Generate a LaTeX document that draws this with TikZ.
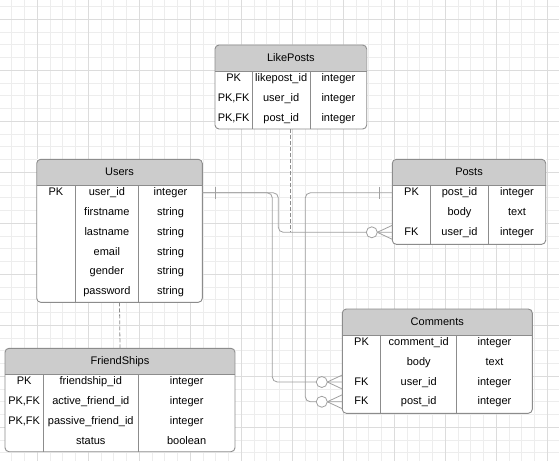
\documentclass[tikz,border=0pt]{standalone}
\usepackage{fontspec}
\setmainfont{Liberation Sans}
\usepackage{tikz}
\usetikzlibrary{calc}
\usepackage{xcolor}

\definecolor{gridfine}{HTML}{EDEDED}
\definecolor{gridbold}{HTML}{DCDCDC}
\definecolor{headgray}{HTML}{CCCCCC}
\definecolor{bordergray}{HTML}{8C8C8C}
\definecolor{linegray}{HTML}{A0A0A0}

\tikzset{
  tablebody/.style={fill=white, inner sep=0pt, outer sep=0pt},
  headfill/.style={fill=headgray},
  tableborder/.style={draw=bordergray, line width=0.9pt},
  headtext/.style={inner sep=0pt, font=\fontsize{11}{13}\selectfont, text height=8pt, text depth=2pt},
  cell/.style={inner sep=0pt, font=\fontsize{11}{13}\selectfont, text height=8pt, text depth=2pt},
  relline/.style={draw=linegray, line width=0.8pt},
  assocline/.style={draw=bordergray, line width=0.8pt, dash pattern=on 4pt off 2pt}
}

% name, x1, y1, x2, y2, column 1, column 2, title, rows
\newcommand{\erdtable}[9]{%
  \node[tablebody, anchor=north west, minimum width={#4-#2}, minimum height={#5-#3}] (#1) at (#2,#3) {};
  \begin{scope}
    \clip[rounded corners=4pt] (#1.north west) rectangle (#1.south east);
    \fill[headfill] (#2,#3) rectangle (#4,{#3+26});
  \end{scope}
  \draw[tableborder, rounded corners=4pt] (#1.north west) rectangle (#1.south east);
  \draw[tableborder] (#2,{#3+26}) -- (#4,{#3+26});
  \draw[tableborder] (#6,{#3+26}) -- (#6,#5);
  \draw[tableborder] (#7,{#3+26}) -- (#7,#5);
  \node[headtext] (#1-title) at ({(#2+#4)/2},{#3+13.5}) {#8};
  \foreach \k/\f/\t [count=\i] in {#9} {
    \node[cell] (#1-key-\i) at ({(#2+#6)/2},{#3+33.5+(\i-1)*19.75}) {\k};
    \node[cell] (#1-field-\i) at ({(#6+#7)/2},{#3+33.5+(\i-1)*19.75}) {\f};
    \node[cell] (#1-type-\i) at ({(#7+#4)/2},{#3+33.5+(\i-1)*19.75}) {\t};
  }
}

% zero or many, at the table edge
\newcommand{\zeromany}[1]{%
  \draw[relline] (#1) ++(-15,0) -- ++(15,-7);
  \draw[relline] (#1) ++(-15,0) -- ++(15,7);
  \draw[relline, fill=white] (#1) ++(-20.5,0) circle[radius=5.5];
}

\begin{document}
\begin{tikzpicture}[x=1pt, y=-1pt]
  \useasboundingbox (0,0) rectangle (559,461);
  \clip (0,0) rectangle (559,461);
  \fill[white] (0,0) rectangle (559,461);

  % grid
  \foreach \i in {-3,...,41} {
    \draw[gridfine, line width=0.8pt] ({37.3+\i*12.75},0) -- ({37.3+\i*12.75},461);
    \draw[gridfine, line width=0.8pt] (0,{19.3+\i*12.75}) -- (559,{19.3+\i*12.75});
  }
  \foreach \i in {-1,...,10} {
    \draw[gridbold, line width=0.8pt] ({37.3+\i*51},0) -- ({37.3+\i*51},461);
    \draw[gridbold, line width=0.8pt] (0,{19.3+\i*51}) -- (559,{19.3+\i*51});
  }

  % tables
  \erdtable{likeposts}{215}{45}{366.7}{129}{252.3}{310}{LikePosts}{%
    PK/likepost\_id/integer, {PK,FK}/user\_id/integer, {PK,FK}/post\_id/integer}
  \erdtable{users}{36.7}{159.3}{202.3}{302.3}{75}{138.7}{Users}{%
    PK/user\_id/integer, /firstname/string, /lastname/string,
    /email/string, /gender/string, /password/string}
  \erdtable{posts}{392.3}{159.3}{545.7}{244.3}{430.7}{488.3}{Posts}{%
    PK/post\_id/integer, /body/text, FK/user\_id/integer}
  \erdtable{friendships}{5}{348.3}{235}{451.7}{43.3}{138.3}{FriendShips}{%
    PK/friendship\_id/integer, {PK,FK}/active\_friend\_id/integer,
    {PK,FK}/passive\_friend\_id/integer, /status/boolean}
  \erdtable{comments}{342.3}{309}{532.3}{413.3}{380.7}{456.7}{Comments}{%
    PK/comment\_id/integer, /body/text, FK/user\_id/integer, FK/post\_id/integer}

  % relations
  \coordinate (users-out) at (users.east |- users-key-1);
  \coordinate (posts-out) at (posts.west |- posts-key-1);
  \coordinate (posts-in) at (posts.west |- posts-key-3);
  \coordinate (comments-in-user) at (comments.west |- comments-key-3);
  \coordinate (comments-in-post) at (comments.west |- comments-key-4);

  \draw[relline, rounded corners=5pt] (users-out) -- ++(76,0) |- (posts-in);
  \draw[relline, rounded corners=5pt] (users-out) -- ++(70,0) |- (comments-in-user);
  \draw[relline, rounded corners=5pt] (posts-out) -- ++(-87,0) |- (comments-in-post);

  \draw[relline] (users-out) ++(12.7,-6) -- ++(0,12);
  \draw[relline] (posts-out) ++(-13,-6) -- ++(0,12);

  \zeromany{posts-in}
  \zeromany{comments-in-user}
  \zeromany{comments-in-post}

  \draw[assocline] (likeposts.south) -- (likeposts.south |- posts-in);
  \draw[assocline] (users.south) -- (friendships.north);
\end{tikzpicture}
\end{document}
